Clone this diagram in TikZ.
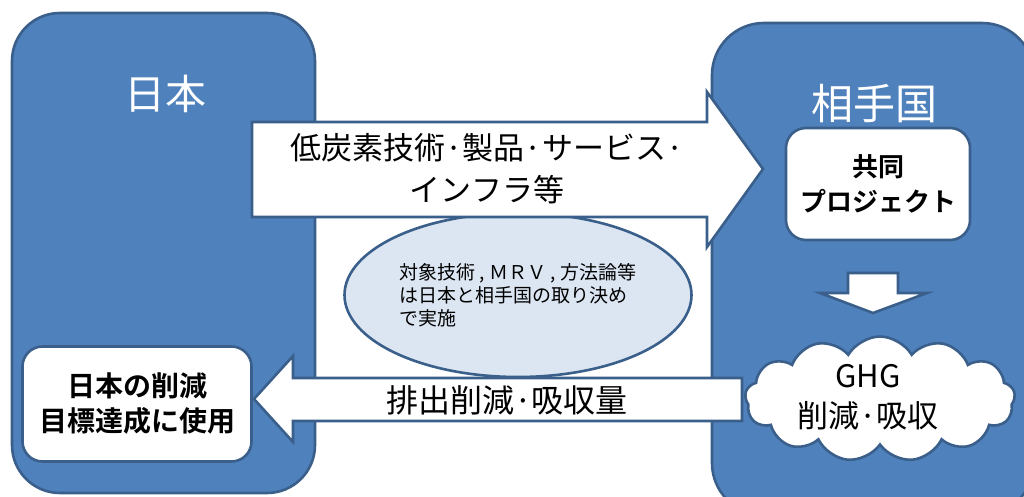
\documentclass[tikz,border=0pt]{standalone}
\usepackage{fontspec}
\setmainfont{Noto Sans CJK JP}[BoldFont={Noto Sans CJK JP Bold}]
\usetikzlibrary{shapes.geometric,shapes.symbols}
\definecolor{boxblue}{HTML}{4F81BD}
\definecolor{edgeblue}{HTML}{3A5F8B}
\definecolor{lightblue}{HTML}{DCE6F2}
\tikzset{
  country/.style={draw=edgeblue, fill=boxblue, line width=2.6pt, rounded corners=48pt},
  titletext/.style={text=white, inner sep=0pt, font=\fontsize{41}{48}\selectfont},
  blockarrow/.style={draw=edgeblue, fill=white, line width=2.6pt, line join=miter},
  whitebox/.style={draw=edgeblue, fill=white, line width=2.6pt, rounded corners=20pt, align=center, inner sep=0pt},
  arrowtext/.style={inner sep=0pt, align=center},
}
\begin{document}
\begin{tikzpicture}[x=1pt,y=-1pt]
\useasboundingbox (0,0) rectangle (1024,497);
\fill[white] (0,0) rectangle (1024,497);
% country boxes
\draw[country] (12,13) rectangle (315,493);
\draw[country, rounded corners=52pt] (712,23) rectangle (1034,515);
\node[titletext] (jp) at (165,94) {日本};
\node[titletext, font=\fontsize{42}{48}\selectfont] (partner) at (874,104) {相手国};
% ellipse
\node[ellipse, draw=edgeblue, fill=lightblue, line width=2.6pt, minimum width=347pt, minimum height=164pt, align=left, inner sep=0pt, font=\fontsize{19}{23}\selectfont] (memo) at (518,295) {対象技術 , ＭＲＶ , 方法論等\\は日本と相手国の取り決め\\で実施};
% right arrow
\draw[blockarrow] (252,122) -- (707,122) -- (707,92) -- (763,169) -- (707,247) -- (707,217) -- (252,217) -- cycle;
\node[arrowtext, font=\fontsize{31}{42}\selectfont] (tech) at (487,169) {低炭素技術·製品·サービス·\\インフラ等};
% joint project box
\node[whitebox, minimum width=184pt, minimum height=112pt, font=\bfseries\fontsize{26}{35}\selectfont] (proj) at (878,184) {共同\\プロジェクト};
% down arrow
\draw[blockarrow] (848,273) -- (898,273) -- (898,293) -- (927,293) -- (873,313) -- (820,293) -- (848,293) -- cycle;
% left arrow
\draw[blockarrow] (742,378) -- (293,378) -- (293,356) -- (254,399) -- (293,442) -- (293,421) -- (742,421) -- cycle;
\node[arrowtext, font=\fontsize{32}{40}\selectfont] (amount) at (507,400) {排出削減·吸収量};
% cloud
\node[cloud, draw=edgeblue, fill=white, line width=2.6pt, cloud puffs=13, cloud puff arc=120, minimum width=270pt, minimum height=125pt, inner sep=0pt] (ghg) at (880,399) {};
\node[arrowtext, font=\fontsize{31}{40}\selectfont] (ghgtext) at (868,397) {GHG\\削減·吸収};
% goal box
\node[whitebox, minimum width=229pt, minimum height=115pt, font=\bfseries\fontsize{28}{35}\selectfont] (goal) at (137,404) {日本の削減\\目標達成に使用};
\end{tikzpicture}
\end{document}
